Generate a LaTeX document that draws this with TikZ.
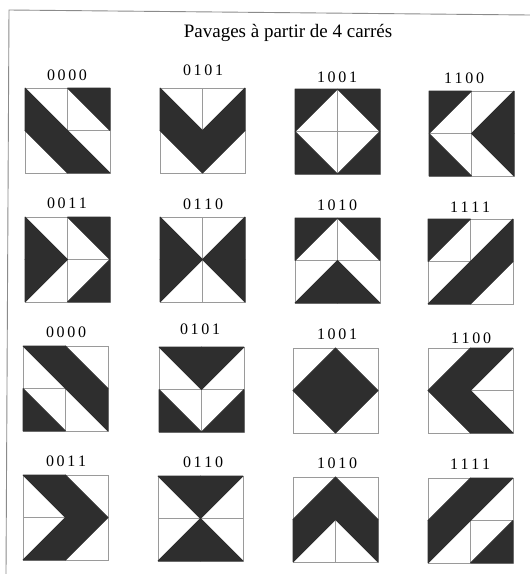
\documentclass[tikz,border=0pt]{standalone}
\usepackage{fontspec}
\setmainfont{Liberation Serif}
\definecolor{encre}{HTML}{2E2E2E}
\definecolor{trait}{HTML}{9A9A9A}
\tikzset{
  grille/.style={draw=trait, line width=0.8pt},
  sombre/.style={fill=encre, draw=encre, line width=0.9pt, line join=bevel},
  cadre/.style={draw=trait!90!black, line width=0.9pt},
  code/.style={font=\fontsize{16}{16}\selectfont, inner sep=0pt}
}
% #1 coin haut-gauche, #2 liste i/j/cx/cy des triangles sombres
\newcommand{\tuile}[2]{%
  \begin{scope}[shift={#1}, x=42.5pt, y=-42.5pt]
    \draw[grille] (0,0) rectangle (2,2) (1,0) -- (1,2) (0,1) -- (2,1);
    \foreach \i/\j/\cx/\cy in {#2}
      \filldraw[sombre] (\i+\cx,\j+\cy) -- (\i+1-\cx,\j+\cy) -- (\i+\cx,\j+1-\cy) -- cycle;
  \end{scope}}
\begin{document}
\begin{tikzpicture}[x=1pt, y=-1pt]
  \useasboundingbox[fill=white] (0,0) rectangle (530,574);
  \draw[cadre] (6,574) -- (9,10) -- (530,15);
  \node[font=\fontsize{19}{19}\selectfont] (titre) at (288,33) {Pavages à partir de 4 carrés};

  % rangee 1
  \node[code] (a1) at (67,75) {0\,0\,0\,0};
  \node[code] (a2) at (203,70) {0\,1\,0\,1};
  \node[code] (a3) at (337,77) {1\,0\,0\,1};
  \node[code] (a4) at (464,78) {1\,1\,0\,0};
  \tuile{(25,88)}{0/0/0/1, 1/0/1/0, 0/1/1/0, 1/1/0/1}
  \tuile{(160,88)}{0/0/0/1, 1/0/1/1, 0/1/1/0, 1/1/0/0}
  \tuile{(295,89)}{0/0/0/0, 1/0/1/0, 0/1/0/1, 1/1/1/1}
  \tuile{(429,91)}{0/0/0/0, 1/0/1/1, 0/1/0/1, 1/1/1/0}

  % rangee 2
  \node[code] (b1) at (67,203) {0\,0\,1\,1};
  \node[code] (b2) at (203,204) {0\,1\,1\,0};
  \node[code] (b3) at (337,205) {1\,0\,1\,0};
  \node[code] (b4) at (470,207) {1\,1\,1\,1};
  \tuile{(25,217)}{0/0/0/1, 1/0/1/0, 0/1/0/0, 1/1/1/1}
  \tuile{(160,217)}{0/0/0/1, 1/0/1/1, 0/1/0/0, 1/1/1/0}
  \tuile{(295,218)}{0/0/0/0, 1/0/1/0, 0/1/1/1, 1/1/0/1}
  \tuile{(428,219)}{0/0/0/0, 1/0/1/1, 0/1/1/1, 1/1/0/0}

  % rangee 3
  \node[code] (c1) at (66,332) {0\,0\,0\,0};
  \node[code] (c2) at (200,329) {0\,1\,0\,1};
  \node[code] (c3) at (337,334) {1\,0\,0\,1};
  \node[code] (c4) at (471,338) {1\,1\,0\,0};
  \tuile{(23,346)}{0/0/1/0, 1/0/0/1, 0/1/0/1, 1/1/1/0}
  \tuile{(159,347)}{0/0/1/0, 1/0/0/0, 0/1/0/1, 1/1/1/1}
  \tuile{(293,348)}{0/0/1/1, 1/0/0/1, 0/1/1/0, 1/1/0/0}
  \tuile{(428,348)}{0/0/1/1, 1/0/0/0, 0/1/1/0, 1/1/0/1}

  % rangee 4
  \node[code] (d1) at (66,461) {0\,0\,1\,1};
  \node[code] (d2) at (203,462) {0\,1\,1\,0};
  \node[code] (d3) at (337,463) {1\,0\,1\,0};
  \node[code] (d4) at (470,464) {1\,1\,1\,1};
  \tuile{(23,475)}{0/0/1/0, 1/0/0/1, 0/1/1/1, 1/1/0/0}
  \tuile{(158,476)}{0/0/1/0, 1/0/0/0, 0/1/1/1, 1/1/0/1}
  \tuile{(293,477)}{0/0/1/1, 1/0/0/1, 0/1/0/0, 1/1/1/0}
  \tuile{(428,478)}{0/0/1/1, 1/0/0/0, 0/1/0/0, 1/1/1/1}
\end{tikzpicture}
\end{document}
